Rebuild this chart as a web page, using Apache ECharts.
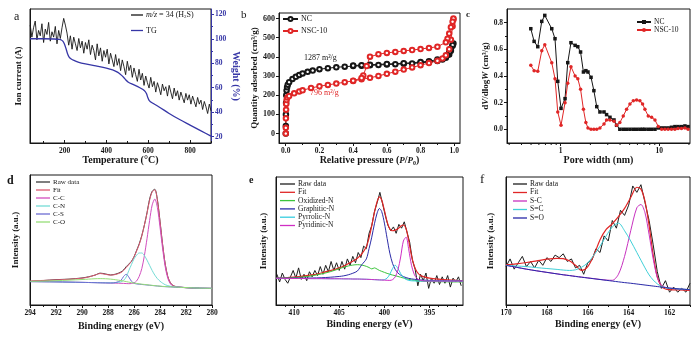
<!DOCTYPE html>
<html><head><meta charset="utf-8">
<script src="https://cdn.jsdelivr.net/npm/echarts@6.0.0/dist/echarts.min.js"></script>
<style>html,body{margin:0;padding:0;background:#fff}#c{width:700px;height:338px}</style>
</head><body><div id="c"></div>
<script>
// ---------- panel a ----------
const aTemp = [36,44,52,60,68,76,84,92,100,108,116,124,132,140,148,156,164,172,180,188,196,204,212,220,228,236,244,252,260,268,276,284,292,300,308,316,324,332,340,348,356,364,372,380,388,396,404,412,420,428,436,444,452,460,468,476,484,492,500,508,516,524,532,540,548,556,564,572,580,588,596,604,612,620,628,636,644,652,660,668,676,684,692,700,708,716,724,732,740,748,756,764,772,780,788,796,804,812,820,828,836,844,852,860,868,876,884,892,900];
const aIon = [88,79,86,91,77,84,80,89,75,85,81,90,76,83,79,87,74,84,78,86,93,88,82,73,80,70,79,74,69,78,71,76,67,75,70,77,66,73,69,62,74,65,71,61,69,64,70,59,67,62,57,66,58,63,54,62,57,51,61,54,58,49,56,51,46,55,47,52,43,50,45,41,49,42,46,38,45,41,36,44,39,42,35,43,38,33,41,35,39,32,38,34,30,37,32,36,29,35,31,27,34,29,32,25,31,27,22,29,24];
const aTgT = [35,100,150,175,185,192,200,207,214,222,232,245,265,300,350,400,430,455,470,482,492,505,530,560,575,585,592,598,605,620,650,700,750,800,850,900];
const aTgW = [100,100,99.8,99.5,99,98,95.5,92,88,85,83.5,82.3,81,79.5,77.8,76,74.5,72.5,70.5,68.5,66.5,64.5,62.5,60,58.5,57,55,52,49.5,47.5,44.5,39,34,29.5,25,20.5];
const aXTicks = [200,400,600,800];
const aXMinor = [100,300,500,700,900];
const aWTicks = [20,40,60,80,100,120];
const aWMinor = [30,50,70,90,110];
// ---------- panel b ----------
const bNcAdsP = [0.0002,0.0005,0.001,0.002,0.003,0.005,0.008,0.012,0.02,0.04,0.06,0.08,0.1,0.13,0.16,0.2,0.25,0.3,0.35,0.4,0.45,0.5,0.55,0.6,0.65,0.7,0.75,0.8,0.85,0.9,0.93,0.95,0.97,0.98,0.99];
const bNcAdsV = [0,40,100,160,200,225,242,255,268,285,296,306,314,322,329,336,341,346,349,352,354,356,358,360,362,364,366,369,373,379,387,396,413,432,458];
const bNcDesP = [0.995,0.99,0.98,0.97,0.96,0.95,0.9,0.85,0.8,0.7,0.6,0.5,0.45,0.4];
const bNcDesV = [470,462,442,424,410,401,386,378,373,367,363,359,357,355];
const bNscAdsP = [0.0002,0.0005,0.001,0.002,0.003,0.005,0.01,0.02,0.05,0.08,0.1,0.15,0.2,0.25,0.3,0.35,0.4,0.45,0.5,0.55,0.6,0.65,0.7,0.75,0.8,0.85,0.9,0.93,0.95,0.97,0.98,0.99,0.995];
const bNscAdsV = [0,30,80,125,155,175,188,196,210,220,226,238,247,254,261,268,275,283,291,301,312,323,334,345,357,368,380,392,408,440,490,560,595];
const bNscDesP = [0.995,0.99,0.98,0.97,0.96,0.95,0.9,0.85,0.8,0.75,0.7,0.65,0.6,0.55,0.5,0.48,0.46,0.45,0.4];
const bNscDesV = [600,584,555,522,495,476,453,447,441,436,431,426,421,414,401,352,303,290,276];
const bXTicks = [0,0.2,0.4,0.6,0.8,1.0];
const bXMinor = [0.1,0.3,0.5,0.7,0.9];
const bYTicks = [0,100,200,300,400,500,600];
// ---------- panel c ----------
const cW = [0.497,0.537,0.585,0.642,0.689,0.811,0.875,0.933,1.007,1.106,1.178,1.27,1.40,1.49,1.59,1.70,1.80,1.89,2.03,2.17,2.32,2.50,2.75,2.92,3.16,3.47,3.69,3.98,4.31,4.66,5.04,5.45,5.89,6.36,6.77,7.15,7.73,8.36,9.04,9.78,10.57,11.4,12.3,13.3,14.4,15.5,16.8,18.2,19.6];
const cNC = [0.755,0.66,0.62,0.81,0.855,0.755,0.68,0.36,0.157,0.23,0.5,0.65,0.63,0.62,0.58,0.43,0.44,0.43,0.39,0.29,0.17,0.13,0.13,0.11,0.09,0.07,0.03,0,0,0,0,0,0,0,0,0,0,0,0,0.01,0.01,0.01,0.01,0.015,0.02,0.02,0.02,0.025,0.02];
const cNSC = [0.48,0.44,0.435,0.59,0.635,0.50,0.38,0.13,0.03,0.20,0.345,0.47,0.40,0.38,0.30,0.15,0.05,0.01,0,0,0,0.01,0.04,0.07,0.07,0.06,0.03,0.05,0.10,0.15,0.19,0.215,0.22,0.215,0.19,0.15,0.10,0.09,0.07,0.02,0,0,0,0,0,0.005,0.005,0.01,0];
const cYTicks = [0,0.2,0.4,0.6,0.8];
const cYMinor = [0.1,0.3,0.5,0.7];
const cXMinor = [0.3,0.4,0.5,0.6,0.7,0.8,0.9,2,3,4,5,6,7,8,9,20];
// ---------- panel d ----------
const dX = [294,293,292,291,290,289.5,289,288.6,288.2,287.8,287.4,287,286.8,286.6,286.4,286.2,286,285.8,285.6,285.4,285.2,285,284.8,284.6,284.4,284.2,284,283.8,283.6,283.4,283.2,283,282.8,282.5,282,281.5,281,280];
const dRaw = [18.2,18.8,19.5,19.9,20.8,21.7,23,24.5,23.9,23.1,23.8,25.4,27,29.5,31.5,33.5,37,42,47,53.5,61.5,71,81.5,87.5,89,81,64.5,46.5,31.5,21.8,17,15,14.2,13.7,13.3,13.1,13,null];
const dFit = [18.5,18.9,19.3,19.8,20.6,21.5,23,24.2,23.6,23,23.5,25,26.5,28.8,31,33.5,37,41.5,46.5,53,61.5,70.5,80.5,87,88.5,80.5,64,46.5,31.5,21.8,17,15,14.3,13.8,13.4,13.1,13,12.8];
const dCC = [18,17.9,17.8,17.6,17.4,17.3,17.2,17.1,17,16.9,16.8,16.7,16.6,16.5,16.4,16.5,17,18.5,22,28,38,51,65,77,81.5,75,60,43.5,29.5,20.5,16.3,14.5,14,13.7,13.4,13.2,13,12.8];
const dCN = [18,17.9,17.8,17.6,17.4,17.3,17.2,17.1,17.1,17.1,17.2,17.8,19,21.5,26.5,31,35.5,38.3,40,40,38,34.5,30.5,26.5,23,20.3,18.3,16.8,15.6,14.9,14.4,14.1,13.9,13.7,13.4,13.2,13,12.8];
const dCS = [18,17.9,17.8,17.6,17.4,17.3,17.2,17.1,17,16.9,17.3,19,22,23.6,21.5,18.3,16.8,16.2,16,15.8,15.6,15.4,15.2,15,14.8,14.6,14.4,14.2,14.1,14,13.9,13.8,13.7,13.6,13.4,13.2,13,12.8];
const dCO = [18.2,18.4,18.7,19.1,19.6,19.9,20.2,20.3,20.2,19.9,19.4,18.8,18.4,18,17.6,17.2,16.9,16.6,16.3,16,15.8,15.6,15.3,15.1,14.9,14.7,14.5,14.3,14.2,14.1,14,13.9,13.8,13.6,13.4,13.2,13,12.8];
const dXTicks = [280,282,284,286,288,290,292,294];
const dXMinor = [281,283,285,287,289,291,293];
// ---------- panel e ----------
const eRawX = [411.9,411.6,411.3,411.0,410.7,410.4,410.1,409.8,409.5,409.2,408.9,408.6,408.3,408.0,407.7,407.4,407.1,406.8,406.5,406.2,405.9,405.6,405.3,405.0,404.7,404.4,404.1,403.8,403.5,403.2,402.9,402.6,402.3,402.0,401.7,401.4,401.1,400.8,400.5,400.2,399.9,399.6,399.3,399.0,398.7,398.4,398.1,397.8,397.5,397.2,396.9,396.6,396.3,396.0,395.7,395.4,395.1,394.8,394.5,394.2,393.9,393.6,393.3,393.0,392.7,392.4,392.1,391.8,391.5];
const eRaw = [24,18,25,20,17,22,27,21,29,20,24,19,26,22,27,23,30,24,31,26,34,27,33,27,34,28,36,31,38,33,41,37,46,44,56,62,73,80,88,79,70,62,58,61,56,63,60,65,57,49,35,28,15,24,19,25,13,21,17,23,16,22,17,23,14,21,18,22,15];
const eX = [412,411,410,409,408,407,406,405,404.5,404,403.5,403,402.5,402,401.7,401.4,401.1,400.8,400.55,400.3,400,399.7,399.4,399.1,398.8,398.5,398.2,397.9,397.6,397.3,397,396.7,396.4,396,395.5,395,394,393,392,391.3];
const eFit = [21,21.3,21.8,22.5,23.5,25,26.8,29,30.5,32.3,34.2,36.5,40,45.5,52.5,62,72.5,81,84.5,82,74,65,59.5,58,58.5,59.5,61.5,62.5,59.5,50,38.5,30.5,26,23,21.8,21,20.2,19.6,19.2,19];
const eOxi = [20.8,21,21.3,21.9,22.8,24.2,26,28.3,29.5,30.5,31.2,31.5,31.2,30.2,29.3,28.2,29,28,27,26.3,25.5,24.7,24,23.4,22.9,22.3,21.7,21.1,20.5,20,19.6,19.3,19,18.7,18.5,18.3,18.2,18.1,18,18];
const eGra = [20.9,20.9,21,21,21.1,21.3,21.7,22.3,22.8,23.6,24.8,26.5,31.5,36,44,53,63.5,72,75.4,73,64,52,40.5,32.5,27.8,25,23.3,22.2,21.4,20.8,20.4,20.1,19.9,19.6,19.4,19.2,19,18.9,18.8,18.7];
const ePyr = [20.8,20.8,20.7,20.7,20.6,20.6,20.5,20.5,20.4,20.4,20.3,20.3,20.2,20.1,20,19.9,19.8,19.7,19.6,19.6,19.8,21,24,28.5,31,28.5,24.5,21.5,20,19.2,18.9,18.8,18.7,18.7,18.7,18.7,18.7,18.7,18.7,18.7];
const ePyd = [20.8,20.8,20.7,20.7,20.6,20.6,20.5,20.5,20.4,20.4,20.3,20.3,20.2,20.1,20,19.9,19.8,19.7,19.6,19.5,19.4,19.3,19.2,19.8,22,27.5,37.5,50,53,43,31,24,20.8,19.2,18.8,18.7,18.7,18.7,18.7,18.7];
const eXTicks = [395,400,405,410];
const eXMinor = [392,393,394,396,397,398,399,401,402,403,404,406,407,408,409,411];
// ---------- panel f ----------
const fRawX = [170,169.8,169.6,169.4,169.2,169,168.8,168.6,168.4,168.2,168,167.8,167.6,167.4,167.2,167,166.8,166.6,166.4,166.2,166,165.8,165.6,165.4,165.2,165,164.8,164.6,164.4,164.2,164,163.8,163.6,163.4,163.2,163,162.8,162.6,162.4,162.2,162,161.8,161.6,161.4,161.2,161];
const fRaw = [30,36,28,33,38,30,34,29,35,31,37,34,39,37,40,34,36,29,31,24,33,35,44,41,54,50,66,60,74,70,78,93,88,94,80,66,47,26,13,19,10,14,10,13,10,17];
const fX = [170,169.5,169,168.5,168,167.5,167.2,166.9,166.6,166.3,166,165.7,165.4,165.1,164.8,164.5,164.2,163.9,163.6,163.4,163.2,163,162.8,162.6,162.4,162.2,162,161.5,161];
const fFit = [31.5,32.2,33.2,34.5,35.8,36.5,36.2,34.5,31,27,30,39,51,59,63.5,69,75.5,84,92,90.5,81,62,39,22,14.5,12.5,12,11.7,11.5];
const fSC = [31,29.5,28,26.7,25.5,24.3,23.6,23,22.4,21.8,21.2,20.6,20,19.5,19.3,24,38,58,76,78.5,72,55,36,21.5,15.5,13.8,13.2,12.5,12];
const fSeC = [31,30.5,30,29.2,28.5,27.8,27.3,27,27.5,29.5,33,39,46,54,61,64,58,50,41,35,29,23.5,19.5,16.5,14.5,13.5,13,12.5,12];
const fSO = [31,29.5,28,26.7,25.5,24.3,23.6,23,22.3,21.7,21.1,20.5,19.9,19.3,18.7,18.1,17.5,17,16.4,16,15.6,15.2,14.8,14.4,14,13.6,13.2,12.5,12];
const fXTicks = [162,164,166,168,170];
const fXMinor = [161,163,165,167,169];

// ---------- helpers ----------
const F = '"Liberation Serif","Times New Roman",serif';
const K = '#161616';
const BLUE = '#3636a6';
const RED = '#e02626';
const pair = (xs, ys) => xs.map((x, i) => [x, ys[i]]);
function merge(a, b) {
  for (const k in b) {
    const v = b[k];
    if (v && typeof v === 'object' && !Array.isArray(v) && a[k] && typeof a[k] === 'object' && !Array.isArray(a[k])) merge(a[k], v);
    else a[k] = v;
  }
  return a;
}
const RICH = {
  i: {fontFamily: F, fontWeight: 'bold', fontStyle: 'italic', fontSize: 10, color: K},
  s: {fontFamily: F, fontWeight: 'bold', fontSize: 6, color: K, padding: [5, 0, 0, 0]}
};
function axis(o) {
  return merge({
    type: 'value',
    axisLine: {show: true, onZero: false, lineStyle: {color: K, width: 1}},
    axisTick: {show: true, length: 3, lineStyle: {color: K, width: 1}},
    axisLabel: {fontFamily: F, fontWeight: 'bold', fontSize: 7.5, color: K, margin: 4},
    splitLine: {show: false},
    nameLocation: 'middle',
    nameTextStyle: {fontFamily: F, fontWeight: 'bold', fontSize: 10, color: K, rich: RICH}
  }, o);
}
function minor(o) {
  return merge({
    type: 'value',
    axisLine: {show: false, onZero: false}, axisLabel: {show: false}, splitLine: {show: false},
    axisTick: {show: true, length: 2, lineStyle: {color: K, width: 1}}
  }, o);
}
function ticks(vals, extra) {
  return merge({axisTick: {customValues: vals}, axisLabel: {customValues: vals}}, extra || {});
}
const fx1 = v => Number(v).toFixed(1);

const grid = [
  {left: 30, top: 9, width: 181, height: 134},
  {left: 279, top: 13, width: 181, height: 130},
  {left: 507, top: 9, width: 183, height: 134},
  {left: 30, top: 175, width: 182, height: 130},
  {left: 276, top: 177, width: 187, height: 128},
  {left: 506, top: 177, width: 184, height: 128}
].map(g => Object.assign(g, {show: true, borderColor: K, borderWidth: 1, containLabel: false}));

const xAxis = [
  axis(merge(ticks(aXTicks), {gridIndex: 0, position: 'bottom', min: 35, max: 900, name: 'Temperature (°C)', nameGap: 10, axisTick: {inside: true}})),
  minor({gridIndex: 0, position: 'bottom', min: 35, max: 900, axisTick: {inside: true, customValues: aXMinor}}),
  axis(merge(ticks(bXTicks), {gridIndex: 1, position: 'bottom', min: -0.04, max: 1.034, name: 'Relative pressure ({i|P}/{i|P}{s|0})', nameGap: 10, axisLabel: {formatter: fx1}})),
  minor({gridIndex: 1, position: 'bottom', min: -0.04, max: 1.034, axisTick: {customValues: bXMinor}}),
  axis({type: 'log', logBase: 10, gridIndex: 2, position: 'bottom', min: 0.285, max: 20.5, name: 'Pore width (nm)', nameGap: 8, axisLabel: {showMinLabel: false, showMaxLabel: false}}),
  axis(merge(ticks(dXTicks), {gridIndex: 3, position: 'bottom', min: 280, max: 294, inverse: true, name: 'Binding energy (eV)', nameGap: 16})),
  minor({gridIndex: 3, position: 'bottom', min: 280, max: 294, inverse: true, axisTick: {customValues: dXMinor}}),
  axis(merge(ticks(eXTicks), {gridIndex: 4, position: 'bottom', min: 391.3, max: 412, inverse: true, name: 'Binding energy (eV)', nameGap: 14})),
  minor({gridIndex: 4, position: 'bottom', min: 391.3, max: 412, inverse: true, axisTick: {customValues: eXMinor}}),
  axis(merge(ticks(fXTicks), {gridIndex: 5, position: 'bottom', min: 161, max: 170, inverse: true, name: 'Binding energy (eV)', nameGap: 14})),
  minor({gridIndex: 5, position: 'bottom', min: 161, max: 170, inverse: true, axisTick: {customValues: fXMinor}})
];

const yAxis = [
  axis({gridIndex: 0, position: 'left', min: 0, max: 100, name: 'Ion current (A)', nameGap: 7, axisLabel: {show: false}, axisTick: {show: false}, nameTextStyle: {fontSize: 9}}),
  axis(merge(ticks(aWTicks), {gridIndex: 0, position: 'right', min: 14.85, max: 124.3, name: 'Weight (%)', nameRotate: -90, nameGap: 16,
    axisLine: {lineStyle: {color: BLUE}}, axisTick: {lineStyle: {color: BLUE}}, axisLabel: {color: BLUE}, nameTextStyle: {color: BLUE, fontSize: 10}})),
  minor({gridIndex: 0, position: 'right', min: 14.85, max: 124.3, axisTick: {customValues: aWMinor, lineStyle: {color: BLUE}}}),
  axis(merge(ticks(bYTicks), {gridIndex: 1, position: 'left', min: -49, max: 629, name: 'Quantity adsorbed (cm³/g)', nameGap: 19, axisLabel: {fontSize: 8}, nameTextStyle: {fontSize: 9}})),
  axis(merge(ticks(cYTicks), {gridIndex: 2, position: 'left', min: -0.103, max: 0.903, name: 'd{i|V}/dlog{i|W} (cm³/g)', nameGap: 15, axisLabel: {formatter: fx1}, nameTextStyle: {fontSize: 9, rich: {i: {fontSize: 9}}}})),
  minor({gridIndex: 2, position: 'left', min: -0.103, max: 0.903, axisTick: {customValues: cYMinor}}),
  axis({gridIndex: 3, position: 'left', min: 0, max: 100, name: 'Intensity (a.u.)', nameGap: 10, axisLabel: {show: false}, axisTick: {show: false}, nameTextStyle: {fontSize: 9}}),
  axis({gridIndex: 4, position: 'left', min: 0, max: 100, name: 'Intensity (a.u.)', nameGap: 8, axisLabel: {show: false}, axisTick: {show: false}, nameTextStyle: {fontSize: 9}}),
  axis({gridIndex: 5, position: 'left', min: 0, max: 100, name: 'Intensity (a.u.)', nameGap: 11, axisLabel: {show: false}, axisTick: {show: false}, nameTextStyle: {fontSize: 9}})
];

function line(name, xi, yi, data, color, o) {
  return merge({
    type: 'line', name: name, xAxisIndex: xi, yAxisIndex: yi, data: data,
    symbol: 'none', showSymbol: false, lineStyle: {color: color, width: 1}, itemStyle: {color: color},
    silent: true, z: 2
  }, o || {});
}
const mk = () => ({symbol: 'emptyCircle', showSymbol: true, symbolSize: 4.5, itemStyle: {borderWidth: 1.3}});

const series = [
  line('a:ion', 0, 0, pair(aTemp, aIon), K, {lineStyle: {width: 0.9}}),
  line('a:tg', 0, 1, pair(aTgT, aTgW), BLUE, {smooth: 0.3, lineStyle: {width: 1.3}}),

  line('b:NC', 2, 3, pair(bNcAdsP, bNcAdsV), K, mk()),
  line('b:NC', 2, 3, pair(bNcDesP, bNcDesV), K, mk()),
  line('b:NSC-10', 2, 3, pair(bNscAdsP, bNscAdsV), RED, mk()),
  line('b:NSC-10', 2, 3, pair(bNscDesP, bNscDesV), RED, mk()),

  line('c:NC', 4, 4, pair(cW, cNC), K, {symbol: 'rect', showSymbol: true, symbolSize: 3.5}),
  line('c:NSC-10', 4, 4, pair(cW, cNSC), RED, {symbol: 'circle', showSymbol: true, symbolSize: 3.5}),
  {
    type: 'custom', xAxisIndex: 4, yAxisIndex: 4, silent: true, clip: false, z: 5,
    data: cXMinor.map(v => [v]),
    renderItem: function (params, api) {
      const p = api.coord([api.value(0), -0.103]);
      return {type: 'line', shape: {x1: p[0], y1: p[1], x2: p[0], y2: p[1] + 2}, style: {stroke: K, lineWidth: 1}};
    }
  },

  line('d:Raw data', 5, 6, pair(dX, dRaw), '#3a3a3a', {smooth: 0.3}),
  line('d:Fit', 5, 6, pair(dX, dFit), '#dc5a72', {smooth: 0.3}),
  line('d:C-C', 5, 6, pair(dX, dCC), '#d24ebf', {smooth: 0.3}),
  line('d:C-N', 5, 6, pair(dX, dCN), '#74dcd6', {smooth: 0.3}),
  line('d:C-S', 5, 6, pair(dX, dCS), '#6c6cd2', {smooth: 0.3}),
  line('d:C-O', 5, 6, pair(dX, dCO), '#96de78', {smooth: 0.3}),

  line('e:Raw data', 7, 7, pair(eRawX, eRaw), '#1e1e1e'),
  line('e:Fit', 7, 7, pair(eX, eFit), RED, {smooth: 0.3, lineStyle: {width: 1.2}}),
  line('e:Oxidized-N', 7, 7, pair(eX, eOxi), '#3cc43c', {smooth: 0.3}),
  line('e:Graphitic-N', 7, 7, pair(eX, eGra), '#2c2ca8', {smooth: 0.3}),
  line('e:Pyrrolic-N', 7, 7, pair(eX, ePyr), '#36cde0', {smooth: 0.3}),
  line('e:Pyridinic-N', 7, 7, pair(eX, ePyd), '#d02ec4', {smooth: 0.3}),

  line('f:Raw data', 9, 8, pair(fRawX, fRaw), '#1e1e1e'),
  line('f:Fit', 9, 8, pair(fX, fFit), RED, {smooth: 0.3, lineStyle: {width: 1.2}}),
  line('f:S-C', 9, 8, pair(fX, fSC), '#c832c0', {smooth: 0.3}),
  line('f:S=C', 9, 8, pair(fX, fSeC), '#40d0d8', {smooth: 0.3}),
  line('f:S=O', 9, 8, pair(fX, fSO), '#2828a8', {smooth: 0.3})
];

const LEG_RICH = {
  i: {fontFamily: F, fontStyle: 'italic', fontSize: 8, color: K},
  s: {fontFamily: F, fontSize: 5, color: K, padding: [4, 0, 0, 0]}
};
const legendLabel = n => n === 'a:ion' ? '{i|m/z} = 34 (H{s|2}S)' : n === 'a:tg' ? 'TG' : n.slice(2);
function legend(names, left, top, fontSize, itemWidth, itemGap, plain) {
  const L = {
    data: names, left: left, top: top, orient: 'vertical', itemWidth: itemWidth, itemHeight: 5, itemGap: itemGap,
    selectedMode: false, padding: 0, formatter: legendLabel,
    textStyle: {fontFamily: F, fontSize: fontSize, color: K, padding: [0, 0, 0, -2], rich: LEG_RICH}
  };
  if (plain) { L.icon = 'rect'; L.itemHeight = 1.3; }
  return L;
}
const legendList = [
  legend(['a:ion', 'a:tg'], 131, 11, 8, 12, 7, true),
  legend(['b:NC', 'b:NSC-10'], 282, 15, 8, 15, 4, false),
  legend(['c:NC', 'c:NSC-10'], 636, 18, 7.5, 14, 0, false),
  legend(['d:Raw data', 'd:Fit', 'd:C-C', 'd:C-N', 'd:C-S', 'd:C-O'], 36, 178.5, 7, 14, 1, true),
  legend(['e:Raw data', 'e:Fit', 'e:Oxidized-N', 'e:Graphitic-N', 'e:Pyrrolic-N', 'e:Pyridinic-N'], 280, 180, 7.5, 15, 0.3, true),
  legend(['f:Raw data', 'f:Fit', 'f:S-C', 'f:S=C', 'f:S=O'], 513, 180, 7.5, 14, 0.5, true)
];

function txt(t, x, y, size, o) {
  return {type: 'text', x: x, y: y, silent: true,
    style: Object.assign({text: t, fontFamily: F, fontSize: size, fill: K, align: 'left', verticalAlign: 'middle'}, o || {})};
}
const graphic = [
  txt('a', 14, 17, 12),
  txt('b', 241, 15, 11),
  txt('c', 466, 15, 9, {fontWeight: 'bold'}),
  txt('d', 7, 181, 12, {fontWeight: 'bold'}),
  txt('e', 249, 180, 10, {fontWeight: 'bold'}),
  txt('f', 480, 180, 13),
  txt('1287 m²/g', 304, 58, 8),
  txt('796 m²/g', 310, 93, 8, {fill: RED})
];

const chart = echarts.init(document.getElementById('c'), null, {renderer: 'canvas'});
chart.setOption({
  animation: false,
  backgroundColor: '#ffffff',
  grid: grid, xAxis: xAxis, yAxis: yAxis, series: series, legend: legendList, graphic: graphic
});
</script></body></html>
